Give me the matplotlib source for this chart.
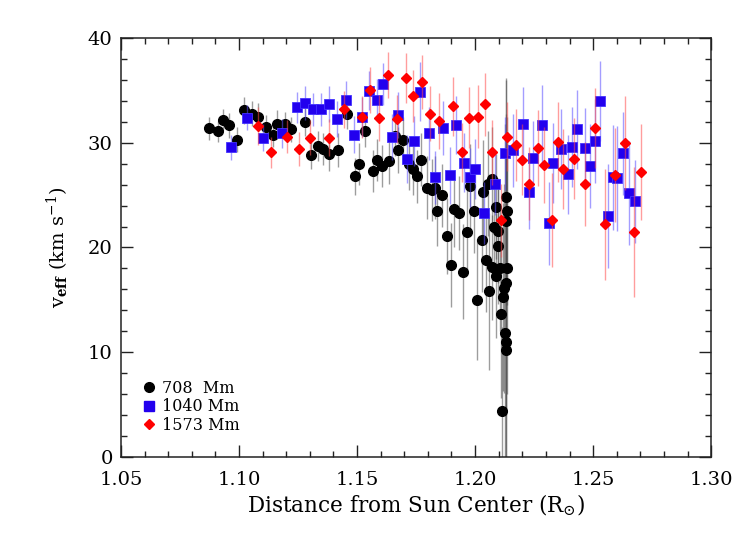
import matplotlib
matplotlib.use("Agg")
import matplotlib.pyplot as plt
from matplotlib.lines import Line2D
from matplotlib.ticker import MultipleLocator

plt.rcParams['font.family'] = ['DejaVu Serif']
plt.rcParams['mathtext.fontset'] = 'dejavuserif'

# 708 Mm series
r708 = [1.0872, 1.0910, 1.0932, 1.0959, 1.0992, 1.1022, 1.1056, 1.1082, 1.1113, 1.1143,
        1.1162, 1.1195, 1.1222, 1.1280, 1.1304, 1.1334, 1.1355, 1.1380, 1.1418, 1.1456,
        1.1492, 1.1510, 1.1534, 1.1566, 1.1586, 1.1605, 1.1636, 1.1661, 1.1675, 1.1694,
        1.1722, 1.1736, 1.1753, 1.1771, 1.1795, 1.1819, 1.1831, 1.1838, 1.1859, 1.1880,
        1.1897, 1.1912, 1.1931, 1.1948, 1.1965, 1.1979, 1.1996, 1.2007, 1.2031, 1.2035,
        1.2047, 1.2054, 1.2060, 1.2070, 1.2071, 1.2078, 1.2087, 1.2089, 1.2096, 1.2099,
        1.2106, 1.2109, 1.2114, 1.2117, 1.2123, 1.2127, 1.2129, 1.2130, 1.2131, 1.2131,
        1.2131, 1.2134, 1.2137]
v708 = [31.4, 31.1, 32.2, 31.7, 30.3, 33.1, 32.8, 32.5, 31.5, 30.8,
        31.8, 31.8, 31.3, 32.0, 28.8, 29.7, 29.4, 28.9, 29.3, 32.8,
        26.8, 28.0, 31.1, 27.3, 28.4, 27.8, 28.3, 30.7, 29.3, 30.3,
        28.0, 27.5, 26.8, 28.4, 25.7, 25.5, 25.7, 23.5, 25.0, 21.1,
        18.3, 23.7, 23.3, 17.7, 21.5, 25.9, 23.5, 15.0, 20.7, 25.3,
        18.8, 26.1, 15.8, 26.5, 18.1, 22.0, 23.9, 17.3, 21.6, 20.1,
        18.0, 13.6, 4.4, 15.3, 16.1, 11.8, 22.5, 10.2, 11.0, 16.6,
        24.8, 23.5, 18.0]
e708 = [1.1, 1.0, 1.0, 1.2, 1.2, 1.3, 1.2, 1.3, 1.2, 1.2,
        1.3, 1.2, 1.2, 1.3, 1.3, 1.4, 1.5, 1.6, 1.6, 1.5,
        1.8, 2.0, 1.5, 2.0, 2.0, 2.0, 2.2, 2.0, 2.2, 2.2,
        2.5, 2.5, 2.5, 2.5, 3.0, 3.0, 3.0, 3.4, 3.0, 3.6,
        4.0, 3.7, 3.5, 4.5, 4.0, 4.0, 4.0, 5.8, 5.0, 5.0,
        5.0, 5.0, 7.5, 5.0, 5.0, 5.0, 5.0, 6.0, 5.0, 5.5,
        6.0, 8.0, 8.0, 9.0, 10.0, 20.0, 8.0, 26.0, 25.0, 12.0,
        8.0, 9.0, 12.0]

# 1040 Mm series
r1040 = [1.0965, 1.1035, 1.1100, 1.1182, 1.1244, 1.1281, 1.1315, 1.1347, 1.1380, 1.1417,
         1.1452, 1.1487, 1.1520, 1.1552, 1.1583, 1.1611, 1.1648, 1.1675, 1.1710, 1.1743,
         1.1767, 1.1805, 1.1831, 1.1863, 1.1894, 1.1918, 1.1955, 1.1979, 1.2000, 1.2039,
         1.2083, 1.2127, 1.2162, 1.2202, 1.2229, 1.2247, 1.2285, 1.2314, 1.2332, 1.2363,
         1.2394, 1.2411, 1.2431, 1.2466, 1.2485, 1.2506, 1.2530, 1.2565, 1.2583, 1.2600,
         1.2626, 1.2654, 1.2678]
v1040 = [29.6, 32.4, 30.5, 30.9, 33.4, 33.8, 33.2, 33.2, 33.7, 32.3,
         34.1, 30.8, 32.5, 35.0, 34.1, 35.6, 30.6, 32.7, 28.5, 30.2,
         34.9, 30.9, 26.7, 31.4, 26.9, 31.7, 28.1, 26.7, 27.5, 23.3,
         26.1, 29.0, 29.3, 31.8, 25.3, 28.6, 31.7, 22.3, 28.1, 29.4,
         27.0, 29.6, 31.3, 29.5, 27.8, 30.2, 34.0, 23.0, 26.7, 26.6,
         29.0, 25.2, 24.4]
e1040 = [1.2, 1.2, 1.3, 1.4, 1.5, 1.6, 1.6, 1.6, 1.7, 1.7,
         1.8, 1.8, 1.9, 1.9, 2.0, 2.0, 2.2, 2.2, 2.3, 2.4,
         2.8, 2.5, 2.5, 2.6, 2.7, 2.8, 2.8, 2.8, 2.9, 3.0,
         3.0, 3.5, 3.5, 3.5, 3.5, 3.5, 3.8, 4.0, 3.8, 3.8,
         3.8, 3.8, 3.8, 3.8, 4.0, 4.0, 3.8, 5.0, 5.0, 5.0,
         4.0, 5.0, 4.0]

# 1573 Mm series
r1573 = [1.1082, 1.1136, 1.1203, 1.1255, 1.1300, 1.1383, 1.1446, 1.1520, 1.1555, 1.1592,
         1.1631, 1.1668, 1.1708, 1.1739, 1.1777, 1.1809, 1.1849, 1.1908, 1.1945, 1.1973,
         1.2014, 1.2042, 1.2073, 1.2110, 1.2134, 1.2172, 1.2198, 1.2229, 1.2266, 1.2290,
         1.2325, 1.2353, 1.2374, 1.2421, 1.2466, 1.2506, 1.2551, 1.2594, 1.2633, 1.2675,
         1.2702]
v1573 = [31.6, 29.1, 30.6, 29.4, 30.5, 30.5, 33.2, 32.5, 35.1, 32.4,
         36.5, 32.3, 36.2, 34.5, 35.8, 32.8, 32.1, 33.5, 29.1, 32.4,
         32.5, 33.7, 29.1, 22.6, 30.6, 29.8, 28.4, 26.1, 29.5, 27.9,
         22.6, 30.1, 27.5, 28.5, 26.1, 31.4, 22.2, 26.9, 30.0, 21.5,
         27.2]
e1573 = [1.8, 1.5, 1.6, 1.6, 1.7, 1.8, 1.8, 2.0, 2.2, 2.2,
         2.2, 2.3, 2.4, 2.5, 2.6, 2.6, 2.7, 2.8, 2.8, 2.9,
         3.0, 3.0, 3.1, 3.5, 3.3, 3.4, 3.4, 3.5, 3.6, 3.6,
         4.5, 3.8, 3.8, 3.9, 4.0, 3.8, 5.3, 4.5, 4.5, 6.2,
         4.6]

labels = ['708  Mm', '1040 Mm', '1573 Mm']
xticks = [1.05, 1.10, 1.15, 1.20, 1.25, 1.30]
xticklabels = ['1.05', '1.10', '1.15', '1.20', '1.25', '1.30']

fig = plt.figure(figsize=(7.47, 5.34), dpi=100)
ax = fig.add_axes([0.162, 0.1448, 0.790, 0.7835])

blue = '#2200ee'
ax.errorbar(r708, v708, yerr=e708, fmt='o', color='black', ms=7.0, mec='black',
            ecolor=(0.3, 0.3, 0.3, 0.55), elinewidth=1.0, capsize=0, zorder=2)
ax.errorbar(r1040, v1040, yerr=e1040, fmt='s', color=blue, ms=6.5, mec='#4433ff', mew=0.6,
            ecolor=(0.35, 0.3, 1.0, 0.55), elinewidth=1.0, capsize=0, zorder=3)
ax.errorbar(r1573, v1573, yerr=e1573, fmt='D', color='red', ms=4.6, mec='red',
            ecolor=(1.0, 0.3, 0.3, 0.55), elinewidth=1.0, capsize=0, zorder=4)

ax.set_xlim(1.05, 1.30)
ax.set_ylim(0, 40)
ax.xaxis.set_minor_locator(MultipleLocator(0.01))
ax.yaxis.set_major_locator(MultipleLocator(10))
ax.yaxis.set_minor_locator(MultipleLocator(2))
ax.set_xticks(xticks)
ax.set_xticklabels(xticklabels)
ax.tick_params(which='both', direction='in', top=True, right=True, width=1.0,
               labelsize=14, color='#222222')
ax.tick_params(which='major', length=8.5)
ax.tick_params(which='minor', length=4.3)
ax.tick_params(axis='x', which='major', pad=10)
ax.tick_params(axis='y', which='major', pad=6)
for s in ax.spines.values():
    s.set_linewidth(1.1)
    s.set_color('#222222')

ax.set_xlabel(r'Distance from Sun Center (R$_{\odot}$)', fontsize=15.5, labelpad=3)
ax.set_ylabel(r'v$_{\mathbf{eff}}$ (km s$^{-1}$)', fontsize=14, labelpad=12)

handles = [Line2D([], [], ls='none', marker='o', color='black', ms=7.0),
           Line2D([], [], ls='none', marker='s', color=blue, ms=6.5),
           Line2D([], [], ls='none', marker='D', color='red', ms=4.6)]
ax.legend(handles, labels, loc='lower left', bbox_to_anchor=(0.012, 0.02), frameon=False,
          fontsize=11.5, handlelength=0.8, handletextpad=0.4, labelspacing=0.1,
          borderaxespad=0.5)

fig.savefig('out.png', dpi=100)
